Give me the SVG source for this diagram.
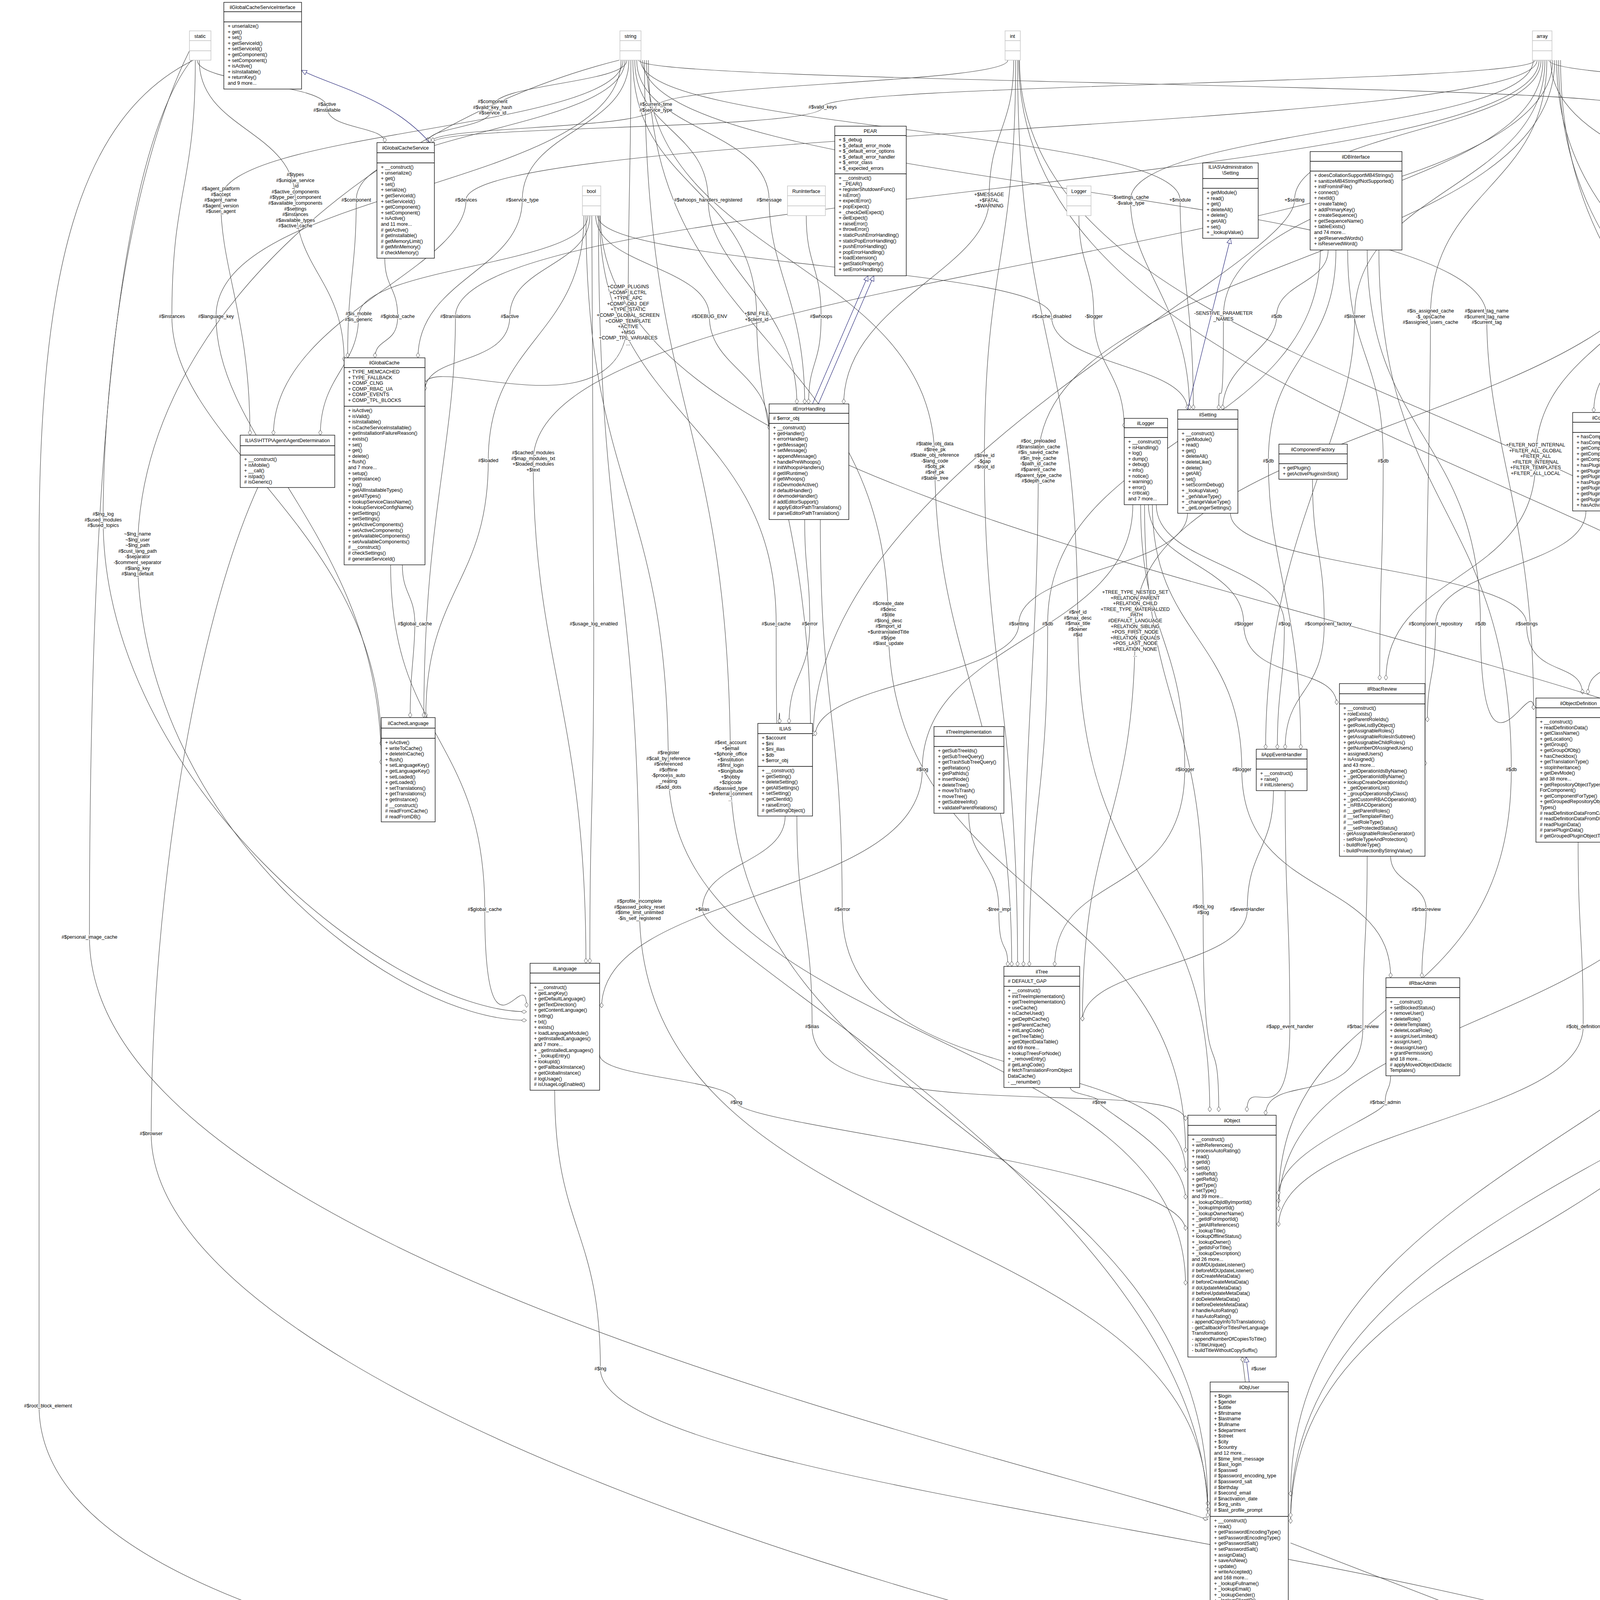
<svg xmlns="http://www.w3.org/2000/svg" width="5517" height="4699" viewBox="0 0 5517 4699">
<style>
text{font-family:"Liberation Sans",Arial,sans-serif;font-size:12.5px;fill:#000}
.t{text-anchor:middle}
.l{text-anchor:middle;paint-order:stroke;stroke:#fff;stroke-width:3px;stroke-linejoin:round}
.b{fill:#fff;stroke:#000;stroke-width:1.3}
.g{fill:#fff;stroke:#bfbfbf;stroke-width:1.3}
.sep{stroke:#000;stroke-width:1.3}
.sepg{stroke:#bfbfbf;stroke-width:1.3}
.e{fill:none;stroke:#404040;stroke-width:1.1;marker-end:url(#dia)}
.i{fill:none;stroke:#191970;stroke-width:1.1;marker-end:url(#tri)}
</style>
<defs>
<marker id="dia" viewBox="0 -5 14 10" refX="13.5" refY="0" markerWidth="14" markerHeight="10" markerUnits="userSpaceOnUse" orient="auto"><path d="M0.5,0 L7,-4.5 L13.5,0 L7,4.5 Z" fill="#fff" stroke="#404040" stroke-width="1"/></marker>
<marker id="tri" viewBox="0 -7 15 14" refX="14" refY="0" markerWidth="15" markerHeight="14" markerUnits="userSpaceOnUse" orient="auto"><path d="M1,-6 L14,0 L1,6 Z" fill="#fff" stroke="#191970" stroke-width="1"/></marker>
</defs>
<rect width="5517" height="4699" fill="#fff"/>

<g id="connectors">
<path class="e" d="M505,154 C505,214 837,214 837,274 S985,320 985,365"/>
<path class="e" d="M1605,154 C1605,214 1261,214 1261,274 S1095,320 1095,365"/>
<path class="e" d="M2580,154 C2580,214 1679,214 1679,274 S1100,320 1100,365"/>
<path class="e" d="M3930,154 C3930,214 2106,214 2106,274 S1108,320 1108,365"/>
<path class="e" d="M1595,154 C1595,333 565,333 565,512 S640,813 640,1114"/>
<path class="e" d="M510,154 C510,333 756,333 756,512 S881,718 881,925"/>
<path class="e" d="M1600,154 C1600,333 912,333 912,512 S890,714 890,916"/>
<path class="e" d="M3935,154 C3935,333 1193,333 1193,512 S700,813 700,1114"/>
<path class="e" d="M1610,154 C1610,333 1337,333 1337,512 S1070,714 1070,916"/>
<path class="e" d="M500,154 C500,482 440,482 440,810 S976,1360 976,1909"/>
<path class="e" d="M1590,154 C1590,482 553,482 553,810 S976,1384 976,1957"/>
<path class="e" d="M1505,552 C1505,681 918,681 918,810 S820,962 820,1114"/>
<path class="e" d="M985,661 C985,736 1018,736 1018,810 S960,863 960,916"/>
<path class="e" d="M3940,154 C3940,482 1166,482 1166,810 S1085,1324 1085,1837"/>
<path class="e" d="M1510,552 C1510,681 1305,681 1305,810 S1088,905 1088,1000"/>
<path class="e" d="M1615,154 C1615,480 1608,480 1608,807 S1088,896 1088,986"/>
<path class="e" d="M1625,154 C1625,333 1813,333 1813,512 S2040,773 2040,1034"/>
<path class="e" d="M1630,154 C1630,333 1969,333 1969,512 S2060,773 2060,1034"/>
<path class="e" d="M2595,154 C2595,333 2532,333 2532,512 S2160,773 2160,1034"/>
<path class="e" d="M1525,552 C1525,681 1816,681 1816,810 S1969,955 1969,1100"/>
<path class="e" d="M1620,154 C1620,482 1937,482 1937,810 S2075,1347 2075,1884"/>
<path class="e" d="M2064,552 C2064,681 2102,681 2102,810 S2070,922 2070,1034"/>
<path class="e" d="M1530,552 C1530,681 2692,681 2692,810 S3040,930 3040,1049"/>
<path class="e" d="M2762,552 C2762,681 2800,681 2800,810 S2878,953 2878,1095"/>
<path class="e" d="M1635,154 C1635,214 4175,214 4175,274 S5198,385 5198,495"/>
<path class="e" d="M3925,154 C3925,333 2894,333 2894,512 S3045,781 3045,1049"/>
<path class="e" d="M1640,154 C1640,333 3021,333 3021,512 S3055,781 3055,1049"/>
<path class="e" d="M3945,154 C3945,333 3314,333 3314,512 S2082,1198 2082,1884"/>
<path class="e" d="M3950,154 C3950,481 3132,481 3132,809 S3120,929 3120,1049"/>
<path class="e" d="M3400,640 C3400,725 3268,725 3268,810 S3130,930 3130,1049"/>
<path class="e" d="M3955,154 C3955,482 3468,482 3468,810 S3240,1364 3240,1918"/>
<path class="e" d="M3960,154 C3960,482 3662,482 3662,810 S3648,1385 3648,1960"/>
<path class="e" d="M1645,154 C1645,482 3806,482 3806,810 S3926,1314 3926,1817"/>
<path class="e" d="M4300,552 C4300,681 4171,681 4171,810 S4080,933 4080,1056"/>
<path class="e" d="M3965,154 C3965,214 5257,214 5257,274 S5253,338 5253,403"/>
<path class="e" d="M4310,552 C4310,680 4536,680 4536,807 S4640,1140 4640,1473"/>
<path class="e" d="M3970,154 C3970,482 4834,482 4834,810 S4150,1335 4150,1860"/>
<path class="e" d="M1495,552 C1495,866 1250,866 1250,1179 S1090,1508 1090,1837"/>
<path class="e" d="M3975,154 C3975,667 1365,667 1365,1180 S1500,1823 1500,2466"/>
<path class="e" d="M1030,1446 C1030,1522 1062,1522 1062,1597 S1050,1717 1050,1837"/>
<path class="e" d="M1515,552 C1515,1075 1520,1075 1520,1597 S1510,2032 1510,2466"/>
<path class="e" d="M1535,552 C1535,1075 1987,1075 1987,1597 S1996,1725 1996,1852"/>
<path class="e" d="M2060,1330 C2060,1464 2073,1464 2073,1597 S2020,1725 2020,1852"/>
<path class="e" d="M1500,552 C1500,1261 1711,1261 1711,1970 S3035,2630 3035,3290"/>
<path class="e" d="M1650,154 C1650,1064 1870,1064 1870,1973 S3092,2914 3092,3855"/>
<path class="e" d="M1000,1446 C1000,1887 1241,1887 1241,2328 S1348,2454 1348,2579"/>
<path class="e" d="M1532,552 C1532,1440 1637,1440 1637,2328 S3092,3099 3092,3870"/>
<path class="e" d="M2010,2089 C2010,2209 1798,2209 1798,2328 S3092,3107 3092,3885"/>
<path class="e" d="M1655,154 C1655,667 2393,667 2393,1179 S2590,1827 2590,2474"/>
<path class="e" d="M2600,154 C2600,667 2520,667 2520,1180 S2605,1827 2605,2474"/>
<path class="e" d="M3980,154 C3980,667 2658,667 2658,1180 S2620,1827 2620,2474"/>
<path class="e" d="M1660,154 C1660,875 2274,875 2274,1596 S3035,2273 3035,2950"/>
<path class="e" d="M3040,1314 C3040,1456 2608,1456 2608,1597 S2087,1741 2087,1884"/>
<path class="e" d="M3380,640 C3380,1119 2682,1119 2682,1597 S2635,2036 2635,2474"/>
<path class="e" d="M2605,154 C2605,875 2759,875 2759,1596 S3097,2221 3097,2846"/>
<path class="e" d="M4290,552 C4290,1074 2906,1074 2906,1596 S2771,2105 2771,2614"/>
<path class="e" d="M2940,1292 C2940,1445 3184,1445 3184,1597 S3422,1700 3422,1804"/>
<path class="e" d="M2960,1292 C2960,1445 3288,1445 3288,1597 S3270,1758 3270,1918"/>
<path class="e" d="M3360,1227 C3360,1412 3390,1412 3390,1597 S3290,1758 3290,1918"/>
<path class="e" d="M3420,640 C3420,910 3247,910 3247,1180 S3330,1549 3330,1918"/>
<path class="e" d="M4295,552 C4295,866 3931,866 3931,1180 S3548,1460 3548,1741"/>
<path class="e" d="M4315,552 C4315,866 4402,866 4402,1180 S4110,1483 4110,1787"/>
<path class="e" d="M3450,640 C3450,910 3541,910 3541,1180 S3532,1460 3532,1741"/>
<path class="e" d="M4060,1308 C4060,1452 3675,1452 3675,1597 S3654,1722 3654,1848"/>
<path class="e" d="M3500,640 C3500,1118 3790,1118 3790,1597 S3926,1707 3926,1817"/>
<path class="e" d="M3150,1314 C3150,1455 3908,1455 3908,1597 S4051,1687 4051,1777"/>
<path class="e" d="M4130,1308 C4130,1452 4177,1452 4177,1597 S4065,1687 4065,1777"/>
<path class="e" d="M3530,640 C3530,1305 3869,1305 3869,1970 S3273,2525 3273,3080"/>
<path class="e" d="M4320,552 C4320,1261 4395,1261 4395,1970 S3273,2535 3273,3100"/>
<path class="e" d="M2610,154 C2610,1062 4736,1062 4736,1970 S3304,2900 3304,3830"/>
<path class="e" d="M3560,2192 C3560,2260 3651,2260 3651,2328 S3640,2415 3640,2503"/>
<path class="e" d="M4325,552 C4325,1440 4537,1440 4537,2328 S3304,3114 3304,3900"/>
<path class="e" d="M3985,154 C3985,875 5004,875 5004,1597 S4894,2971 4894,4345"/>
<path class="e" d="M3990,154 C3990,1062 5116,1062 5116,1970 S3304,2927 3304,3885"/>
<path class="e" d="M2608,154 C2608,1241 5064,1241 5064,2328 S4798,3336 4798,4345"/>
<path class="e" d="M4330,552 C4330,1590 5183,1590 5183,2627 S4880,3486 4880,4345"/>
<path class="e" d="M1537,552 C1537,1590 5287,1590 5287,2627 S4902,3544 4902,4461"/>
<path class="e" d="M3995,154 C3995,1241 5400,1241 5400,2328 S4902,3414 4902,4500"/>
<path class="e" d="M2040,2089 C2040,2358 2079,2358 2079,2628 S3035,2748 3035,2869"/>
<path class="e" d="M1535,2700 C1535,2761 1885,2761 1885,2822 S3035,2986 3035,3150"/>
<path class="e" d="M1420,2791 C1420,3147 1537,3147 1537,3504 S4667,4011 4667,4519"/>
<path class="e" d="M2740,2784 C2740,2803 2814,2803 2814,2822 S3035,2946 3035,3070"/>
<path class="e" d="M3290,2024 C3290,2326 3302,2326 3302,2628 S3192,2737 3192,2846"/>
<path class="e" d="M3500,2192 C3500,2410 3489,2410 3489,2628 S3240,2741 3240,2855"/>
<path class="e" d="M4040,2156 C4040,2392 4053,2392 4053,2628 S3273,2884 3273,3140"/>
<path class="e" d="M3560,2754 C3560,2788 3546,2788 3546,2822 S3273,2941 3273,3060"/>
<path class="e" d="M3304,3950 L4667,4477"/>
<path class="e" d="M4790,2440 C4790,2786 4820,2786 4820,3131 S4769,3738 4769,4345"/>
<path class="e" d="M4610,1724 C4610,2375 4591,2375 4591,3025 S4745,3685 4745,4345"/>
<path class="e" d="M495,154 C200,300 100,700 100,1400 L100,3599 C100,4400 3000,4519 4667,4519"/>
<path class="e" d="M660,1248 C500,1600 387,2300 387,2902 C387,3700 3500,4480 4667,4505"/>
<path class="e" d="M490,154 C300,400 229,1200 229,2399 C229,3200 2500,3700 3092,3890"/>
<path class="e" d="M485,130 C350,400 264,900 264,1330 C264,2000 1000,2590 1348,2590"/>
<path class="e" d="M1585,154 C1000,300 352,800 352,1418 C352,2100 1000,2612 1348,2612"/>
<path class="e" d="M2100,1330 C2100,1829 2156,1829 2156,2328 S3035,2664 3035,3000"/>
<path class="e" d="M2480,2082 C2480,2205 2557,2205 2557,2328 S2580,2401 2580,2474"/>
<path class="e" d="M2930,1292 C2930,1810 3080,1810 3080,2328 S3120,2587 3120,2846"/>
<path class="e" d="M3260,2024 C3260,2176 3193,2176 3193,2328 S2771,2471 2771,2614"/>
<path class="e" d="M2900,1292 C2900,1631 2361,1631 2361,1970 S1540,2275 1540,2580"/>
<path class="e" d="M2920,1292 C2920,1631 3033,1631 3033,1970 S2700,2222 2700,2474"/>
<path class="e" d="M2950,1292 C2950,1631 3179,1631 3179,1970 S3560,2237 3560,2503"/>
<path class="e" d="M3188,3538 L3180,3474"/>
<path class="i" d="M3198,3538 L3190,3474"/>
<path class="i" d="M1100,365 C1000,250 850,220 772,180"/>
<path class="i" d="M2080,1034 L2222,706"/>
<path class="i" d="M2095,1034 L2237,706"/>
<path class="i" d="M3040,1049 L3150,610"/>
</g>

<g id="labels">
<text class="l" x="837" y="271"><tspan x="837">#$active</tspan><tspan x="837" dy="14.6">#$installable</tspan></text>
<text class="l" x="1261" y="264"><tspan x="1261">#$component</tspan><tspan x="1261" dy="14.6">#$valid_key_hash</tspan><tspan x="1261" dy="14.6">#$service_id</tspan></text>
<text class="l" x="1679" y="271"><tspan x="1679">#$current_time</tspan><tspan x="1679" dy="14.6">#$service_type</tspan></text>
<text class="l" x="2106" y="278">#$valid_keys</text>
<text class="l" x="565" y="487"><tspan x="565">#$agent_platform</tspan><tspan x="565" dy="14.6">#$accept</tspan><tspan x="565" dy="14.6">#$agent_name</tspan><tspan x="565" dy="14.6">#$agent_version</tspan><tspan x="565" dy="14.6">#$user_agent</tspan></text>
<text class="l" x="756" y="451"><tspan x="756">#$types</tspan><tspan x="756" dy="14.6">#$unique_service</tspan><tspan x="756" dy="14.6">_id</tspan><tspan x="756" dy="14.6">#$active_components</tspan><tspan x="756" dy="14.6">#$type_per_component</tspan><tspan x="756" dy="14.6">#$available_components</tspan><tspan x="756" dy="14.6">#$settings</tspan><tspan x="756" dy="14.6">#$instances</tspan><tspan x="756" dy="14.6">#$available_types</tspan><tspan x="756" dy="14.6">#$active_cache</tspan></text>
<text class="l" x="912" y="516">#$component</text>
<text class="l" x="1193" y="516">#$devices</text>
<text class="l" x="1337" y="516">#$service_type</text>
<text class="l" x="440" y="814">#$instances</text>
<text class="l" x="553" y="814">#$language_key</text>
<text class="l" x="918" y="807"><tspan x="918">#$is_mobile</tspan><tspan x="918" dy="14.6">#$is_generic</tspan></text>
<text class="l" x="1018" y="814">#$global_cache</text>
<text class="l" x="1166" y="814">#$translations</text>
<text class="l" x="1305" y="814">#$active</text>
<text class="l" x="1608" y="738"><tspan x="1608">+COMP_PLUGINS</tspan><tspan x="1608" dy="14.6">+COMP_ILCTRL</tspan><tspan x="1608" dy="14.6">+TYPE_APC</tspan><tspan x="1608" dy="14.6">+COMP_OBJ_DEF</tspan><tspan x="1608" dy="14.6">+TYPE_STATIC</tspan><tspan x="1608" dy="14.6">+COMP_GLOBAL_SCREEN</tspan><tspan x="1608" dy="14.6">+COMP_TEMPLATE</tspan><tspan x="1608" dy="14.6">+ACTIVE</tspan><tspan x="1608" dy="14.6">+MSG</tspan><tspan x="1608" dy="14.6">+COMP_TPL_VARIABLES</tspan><tspan x="1608" dy="14.6">...</tspan></text>
<text class="l" x="1813" y="516">#$whoops_handlers_registered</text>
<text class="l" x="1969" y="516">#$message</text>
<text class="l" x="2532" y="502"><tspan x="2532">+$MESSAGE</tspan><tspan x="2532" dy="14.6">+$FATAL</tspan><tspan x="2532" dy="14.6">+$WARNING</tspan></text>
<text class="l" x="1816" y="814">#$DEBUG_ENV</text>
<text class="l" x="1937" y="807"><tspan x="1937">+$INI_FILE</tspan><tspan x="1937" dy="14.6">+$client_id</tspan></text>
<text class="l" x="2102" y="814">#$whoops</text>
<text class="l" x="2692" y="814">#$cache_disabled</text>
<text class="l" x="2800" y="814">-$logger</text>
<text class="l" x="4175" y="264"><tspan x="4175">+$CURRENT_GROUP</tspan><tspan x="4175" dy="14.6">+$ERROR</tspan><tspan x="4175" dy="14.6">+$INI_FILE_NAME</tspan></text>
<text class="l" x="2894" y="509"><tspan x="2894">-$settings_cache</tspan><tspan x="2894" dy="14.6">-$value_type</tspan></text>
<text class="l" x="3021" y="516">+$module</text>
<text class="l" x="3314" y="516">+$setting</text>
<text class="l" x="3132" y="806"><tspan x="3132">-SENSTIVE_PARAMETER</tspan><tspan x="3132" dy="14.6">_NAMES</tspan></text>
<text class="l" x="3268" y="814">#$db</text>
<text class="l" x="3468" y="814">#$listener</text>
<text class="l" x="3662" y="800"><tspan x="3662">#$is_assigned_cache</tspan><tspan x="3662" dy="14.6">-$_opsCache</tspan><tspan x="3662" dy="14.6">#$assigned_users_cache</tspan></text>
<text class="l" x="3806" y="800"><tspan x="3806">#$parent_tag_name</tspan><tspan x="3806" dy="14.6">#$current_tag_name</tspan><tspan x="3806" dy="14.6">#$current_tag</tspan></text>
<text class="l" x="4171" y="814">+PLUGIN_BASE_PATH</text>
<text class="l" x="5257" y="278">+$GROUPS</text>
<text class="l" x="4536" y="738"><tspan x="4536">+CMD_MODE_HTML</tspan><tspan x="4536" dy="14.6">+PARAM_CMD</tspan><tspan x="4536" dy="14.6">+PARAM_CMD_FALLBACK</tspan><tspan x="4536" dy="14.6">+PARAM_CMD_MODE</tspan><tspan x="4536" dy="14.6">+PARAM_CMD_CLASS</tspan><tspan x="4536" dy="14.6">+CMD_POST</tspan><tspan x="4536" dy="14.6">+CMD_MODE_PROCESS</tspan><tspan x="4536" dy="14.6">+PROTECTED_PARAMETERS</tspan><tspan x="4536" dy="14.6">+PARAM_CID_PATH</tspan><tspan x="4536" dy="14.6">+PARAM_CSRF_TOKEN</tspan><tspan x="4536" dy="14.6">...</tspan></text>
<text class="l" x="4834" y="800"><tspan x="4834">#$obj_data</tspan><tspan x="4834" dy="14.6">#$obj_group</tspan><tspan x="4834" dy="14.6">#$sub_types</tspan></text>
<text class="l" x="1250" y="1183">#$loaded</text>
<text class="l" x="1365" y="1163"><tspan x="1365">#$cached_modules</tspan><tspan x="1365" dy="14.6">#$map_modules_txt</tspan><tspan x="1365" dy="14.6">+$loaded_modules</tspan><tspan x="1365" dy="14.6">+$text</tspan></text>
<text class="l" x="1062" y="1601">#$global_cache</text>
<text class="l" x="1520" y="1601">#$usage_log_enabled</text>
<text class="l" x="1987" y="1601">#$use_cache</text>
<text class="l" x="2073" y="1601">#$error</text>
<text class="l" x="1711" y="1931"><tspan x="1711">#$register</tspan><tspan x="1711" dy="14.6">#$call_by_reference</tspan><tspan x="1711" dy="14.6">#$referenced</tspan><tspan x="1711" dy="14.6">#$offline</tspan><tspan x="1711" dy="14.6">-$process_auto</tspan><tspan x="1711" dy="14.6">_reating</tspan><tspan x="1711" dy="14.6">#$add_dots</tspan></text>
<text class="l" x="1870" y="1905"><tspan x="1870">#$ext_account</tspan><tspan x="1870" dy="14.6">+$email</tspan><tspan x="1870" dy="14.6">+$phone_office</tspan><tspan x="1870" dy="14.6">+$institution</tspan><tspan x="1870" dy="14.6">#$first_login</tspan><tspan x="1870" dy="14.6">+$longitude</tspan><tspan x="1870" dy="14.6">+$hobby</tspan><tspan x="1870" dy="14.6">+$zipcode</tspan><tspan x="1870" dy="14.6">#$passwd_type</tspan><tspan x="1870" dy="14.6">+$referral_comment</tspan><tspan x="1870" dy="14.6">...</tspan></text>
<text class="l" x="1241" y="2332">#$global_cache</text>
<text class="l" x="1637" y="2311"><tspan x="1637">#$profile_incomplete</tspan><tspan x="1637" dy="14.6">#$passwd_policy_reset</tspan><tspan x="1637" dy="14.6">#$time_limit_unlimited</tspan><tspan x="1637" dy="14.6">-$is_self_registered</tspan></text>
<text class="l" x="1798" y="2332">+$ilias</text>
<text class="l" x="2393" y="1140"><tspan x="2393">#$table_obj_data</tspan><tspan x="2393" dy="14.6">#$tree_pk</tspan><tspan x="2393" dy="14.6">#$table_obj_reference</tspan><tspan x="2393" dy="14.6">-$lang_code</tspan><tspan x="2393" dy="14.6">#$obj_pk</tspan><tspan x="2393" dy="14.6">#$ref_pk</tspan><tspan x="2393" dy="14.6">#$table_tree</tspan></text>
<text class="l" x="2520" y="1170"><tspan x="2520">#$tree_id</tspan><tspan x="2520" dy="14.6">-$gap</tspan><tspan x="2520" dy="14.6">#$root_id</tspan></text>
<text class="l" x="2658" y="1133"><tspan x="2658">#$oc_preloaded</tspan><tspan x="2658" dy="14.6">#$translation_cache</tspan><tspan x="2658" dy="14.6">#$is_saved_cache</tspan><tspan x="2658" dy="14.6">#$in_tree_cache</tspan><tspan x="2658" dy="14.6">-$path_id_cache</tspan><tspan x="2658" dy="14.6">#$parent_cache</tspan><tspan x="2658" dy="14.6">#$parent_type_cache</tspan><tspan x="2658" dy="14.6">#$depth_cache</tspan></text>
<text class="l" x="2274" y="1549"><tspan x="2274">#$create_date</tspan><tspan x="2274" dy="14.6">#$desc</tspan><tspan x="2274" dy="14.6">#$title</tspan><tspan x="2274" dy="14.6">#$long_desc</tspan><tspan x="2274" dy="14.6">#$import_id</tspan><tspan x="2274" dy="14.6">+$untranslatedTitle</tspan><tspan x="2274" dy="14.6">#$type</tspan><tspan x="2274" dy="14.6">#$last_update</tspan></text>
<text class="l" x="2608" y="1601">#$setting</text>
<text class="l" x="2682" y="1601">#$db</text>
<text class="l" x="2759" y="1571"><tspan x="2759">#$ref_id</tspan><tspan x="2759" dy="14.6">#$max_desc</tspan><tspan x="2759" dy="14.6">#$max_title</tspan><tspan x="2759" dy="14.6">#$owner</tspan><tspan x="2759" dy="14.6">#$id</tspan></text>
<text class="l" x="2906" y="1520"><tspan x="2906">+TREE_TYPE_NESTED_SET</tspan><tspan x="2906" dy="14.6">+RELATION_PARENT</tspan><tspan x="2906" dy="14.6">+RELATION_CHILD</tspan><tspan x="2906" dy="14.6">+TREE_TYPE_MATERIALIZED</tspan><tspan x="2906" dy="14.6">_PATH</tspan><tspan x="2906" dy="14.6">#DEFAULT_LANGUAGE</tspan><tspan x="2906" dy="14.6">+RELATION_SIBLING</tspan><tspan x="2906" dy="14.6">+POS_FIRST_NODE</tspan><tspan x="2906" dy="14.6">+RELATION_EQUALS</tspan><tspan x="2906" dy="14.6">+POS_LAST_NODE</tspan><tspan x="2906" dy="14.6">+RELATION_NONE</tspan><tspan x="2906" dy="14.6">...</tspan></text>
<text class="l" x="3184" y="1601">#$logger</text>
<text class="l" x="3288" y="1601">#$log</text>
<text class="l" x="3400" y="1601">#$component_factory</text>
<text class="l" x="3247" y="1184">#$db</text>
<text class="l" x="3931" y="1143"><tspan x="3931">+FILTER_NOT_INTERNAL</tspan><tspan x="3931" dy="14.6">+FILTER_ALL_GLOBAL</tspan><tspan x="3931" dy="14.6">+FILTER_ALL</tspan><tspan x="3931" dy="14.6">+FILTER_INTERNAL</tspan><tspan x="3931" dy="14.6">+FILTER_TEMPLATES</tspan><tspan x="3931" dy="14.6">+FILTER_ALL_LOCAL</tspan></text>
<text class="l" x="4402" y="1170"><tspan x="4402">+MODE_REPOSITORY</tspan><tspan x="4402" dy="14.6">+MODE_ADMINISTRATION</tspan><tspan x="4402" dy="14.6">+MODE_WORKSPACE</tspan></text>
<text class="l" x="3541" y="1184">#$db</text>
<text class="l" x="3675" y="1601">#$component_repository</text>
<text class="l" x="3790" y="1601">#$db</text>
<text class="l" x="3908" y="1601">#$settings</text>
<text class="l" x="4177" y="1601">#$component_repository</text>
<text class="l" x="3869" y="1974">#$db</text>
<text class="l" x="4395" y="1953"><tspan x="4395">+TABLE_OBJECT_DATA</tspan><tspan x="4395" dy="14.6">+LONG_DESC_LENGTH</tspan><tspan x="4395" dy="14.6">+TITLE_LENGTH</tspan><tspan x="4395" dy="14.6">+DESC_LENGTH</tspan></text>
<text class="l" x="4736" y="1938"><tspan x="4736">#$time_limit_owner</tspan><tspan x="4736" dy="14.6">+$active</tspan><tspan x="4736" dy="14.6">#$time_limit_from</tspan><tspan x="4736" dy="14.6">#$time_limit_until</tspan><tspan x="4736" dy="14.6">+$login_attempts</tspan><tspan x="4736" dy="14.6">+$last_password_change_ts</tspan></text>
<text class="l" x="3651" y="2332">#$rbacreview</text>
<text class="l" x="4537" y="2325"><tspan x="4537">+PASSWD_CRYPTED</tspan><tspan x="4537" dy="14.6">+PASSWD_PLAIN</tspan></text>
<text class="l" x="5004" y="1601">+$objectList</text>
<text class="l" x="5116" y="1923"><tspan x="5116">+$prefs</tspan><tspan x="5116" dy="14.6">+$user_defined_data</tspan><tspan x="5116" dy="14.6">#$interests_help</tspan><tspan x="5116" dy="14.6">_offered</tspan><tspan x="5116" dy="14.6">#$interests_general</tspan><tspan x="5116" dy="14.6">#$oldPrefs</tspan><tspan x="5116" dy="14.6">#$interests_help</tspan><tspan x="5116" dy="14.6">_looking</tspan></text>
<text class="l" x="5064" y="2332">#$initialWidth</text>
<text class="l" x="5183" y="2624"><tspan x="5183">+ILIAS_IMG_MANAGER</tspan><tspan x="5183" dy="14.6">_PLUGIN</tspan></text>
<text class="l" x="5326" y="2631">#$client_init</text>
<text class="l" x="5453" y="2318"><tspan x="5453">#$plugins</tspan><tspan x="5453" dy="14.6">#$buttons</tspan><tspan x="5453" dy="14.6">#$disabled_buttons</tspan></text>
<text class="l" x="2079" y="2632">#$ilias</text>
<text class="l" x="1885" y="2826">#$lng</text>
<text class="l" x="1537" y="3508">#$lng</text>
<text class="l" x="2814" y="2826">#$tree</text>
<text class="l" x="3302" y="2632">#$app_event_handler</text>
<text class="l" x="3489" y="2632">#$rbac_review</text>
<text class="l" x="4053" y="2632">#$obj_definition</text>
<text class="l" x="3546" y="2826">#$rbac_admin</text>
<text class="l" x="3222" y="3508">#$user</text>
<text class="l" x="4296" y="4323">#$user</text>
<text class="l" x="4820" y="3135">#$tpl</text>
<text class="l" x="4591" y="3029">#$ctrl</text>
<text class="l" x="123" y="3603">#$root_block_element</text>
<text class="l" x="387" y="2906">#$browser</text>
<text class="l" x="229" y="2403">#$personal_image_cache</text>
<text class="l" x="264" y="1320"><tspan x="264">#$lng_log</tspan><tspan x="264" dy="14.6">#$used_modules</tspan><tspan x="264" dy="14.6">#$used_topics</tspan></text>
<text class="l" x="352" y="1371"><tspan x="352">~$lng_name</tspan><tspan x="352" dy="14.6">~$lng_user</tspan><tspan x="352" dy="14.6">~$lng_path</tspan><tspan x="352" dy="14.6">#$cust_lang_path</tspan><tspan x="352" dy="14.6">-$separator</tspan><tspan x="352" dy="14.6">-$comment_separator</tspan><tspan x="352" dy="14.6">#$lang_key</tspan><tspan x="352" dy="14.6">#$lang_default</tspan></text>
<text class="l" x="2156" y="2332">#$error</text>
<text class="l" x="2557" y="2332">-$tree_impl</text>
<text class="l" x="3080" y="2325"><tspan x="3080">#$obj_log</tspan><tspan x="3080" dy="14.6">#$log</tspan></text>
<text class="l" x="3193" y="2332">#$eventHandler</text>
<text class="l" x="2361" y="1974">#$log</text>
<text class="l" x="3033" y="1974">#$logger</text>
<text class="l" x="3179" y="1974">#$logger</text>
</g>

<g id="static"><rect class="g" x="485" y="79" width="55" height="75"/><line class="sepg" x1="485" y1="104" x2="540" y2="104"/><line class="sepg" x1="485" y1="130" x2="540" y2="130"/><text class="t" x="512" y="97">static</text></g>
<g id="string"><rect class="g" x="1587" y="79" width="54" height="75"/><line class="sepg" x1="1587" y1="104" x2="1641" y2="104"/><line class="sepg" x1="1587" y1="130" x2="1641" y2="130"/><text class="t" x="1614" y="97">string</text></g>
<g id="int"><rect class="g" x="2573" y="79" width="39" height="75"/><line class="sepg" x1="2573" y1="104" x2="2612" y2="104"/><line class="sepg" x1="2573" y1="130" x2="2612" y2="130"/><text class="t" x="2592" y="97">int</text></g>
<g id="array"><rect class="g" x="3923" y="79" width="50" height="75"/><line class="sepg" x1="3923" y1="104" x2="3973" y2="104"/><line class="sepg" x1="3923" y1="130" x2="3973" y2="130"/><text class="t" x="3948" y="97">array</text></g>
<g id="bool"><rect class="g" x="1491" y="476" width="47" height="76"/><line class="sepg" x1="1491" y1="501" x2="1538" y2="501"/><line class="sepg" x1="1491" y1="527" x2="1538" y2="527"/><text class="t" x="1514" y="494">bool</text></g>
<g id="RunInterface"><rect class="g" x="2016" y="476" width="97" height="76"/><line class="sepg" x1="2016" y1="501" x2="2113" y2="501"/><line class="sepg" x1="2016" y1="527" x2="2113" y2="527"/><text class="t" x="2064" y="494">RunInterface</text></g>
<g id="Logger"><rect class="g" x="2731" y="476" width="62" height="76"/><line class="sepg" x1="2731" y1="501" x2="2793" y2="501"/><line class="sepg" x1="2731" y1="527" x2="2793" y2="527"/><text class="t" x="2762" y="494">Logger</text></g>
<g id="const"><rect class="g" x="4277" y="476" width="55" height="76"/><line class="sepg" x1="4277" y1="501" x2="4332" y2="501"/><line class="sepg" x1="4277" y1="527" x2="4332" y2="527"/><text class="t" x="4304" y="494">const</text></g>

<g id="ilGlobalCacheServiceInterface"><rect class="b" x="573" y="6" width="199" height="222"/><line class="sep" x1="573" y1="30" x2="772" y2="30"/><line class="sep" x1="573" y1="56" x2="772" y2="56"/><text class="t" x="672" y="23">ilGlobalCacheServiceInterface</text>
<text x="583" y="71"><tspan x="583">+ unserialize()</tspan><tspan x="583" dy="14.6">+ get()</tspan><tspan x="583" dy="14.6">+ set()</tspan><tspan x="583" dy="14.6">+ getServiceId()</tspan><tspan x="583" dy="14.6">+ setServiceId()</tspan><tspan x="583" dy="14.6">+ getComponent()</tspan><tspan x="583" dy="14.6">+ setComponent()</tspan><tspan x="583" dy="14.6">+ isActive()</tspan><tspan x="583" dy="14.6">+ isInstallable()</tspan><tspan x="583" dy="14.6">+ returnKey()</tspan><tspan x="583" dy="14.6">and 9 more...</tspan></text></g>

<g id="ilGlobalCacheService"><rect class="b" x="965" y="365" width="147" height="296"/><line class="sep" x1="965" y1="391" x2="1112" y2="391"/><line class="sep" x1="965" y1="417" x2="1112" y2="417"/><text class="t" x="1038" y="383">ilGlobalCacheService</text>
<text x="975" y="432"><tspan x="975">+ __construct()</tspan><tspan x="975" dy="14.6">+ unserialize()</tspan><tspan x="975" dy="14.6">+ get()</tspan><tspan x="975" dy="14.6">+ set()</tspan><tspan x="975" dy="14.6">+ serialize()</tspan><tspan x="975" dy="14.6">+ getServiceId()</tspan><tspan x="975" dy="14.6">+ setServiceId()</tspan><tspan x="975" dy="14.6">+ getComponent()</tspan><tspan x="975" dy="14.6">+ setComponent()</tspan><tspan x="975" dy="14.6">+ isActive()</tspan><tspan x="975" dy="14.6">and 11 more...</tspan><tspan x="975" dy="14.6"># getActive()</tspan><tspan x="975" dy="14.6"># getInstallable()</tspan><tspan x="975" dy="14.6"># getMemoryLimit()</tspan><tspan x="975" dy="14.6"># getMinMemory()</tspan><tspan x="975" dy="14.6"># checkMemory()</tspan></text></g>

<g id="ilGlobalCache"><rect class="b" x="881" y="916" width="207" height="530"/><line class="sep" x1="881" y1="941" x2="1088" y2="941"/><line class="sep" x1="881" y1="1040" x2="1088" y2="1040"/><text class="t" x="984" y="933">ilGlobalCache</text>
<text x="891" y="956"><tspan x="891">+ TYPE_MEMCACHED</tspan><tspan x="891" dy="14.6">+ TYPE_FALLBACK</tspan><tspan x="891" dy="14.6">+ COMP_CLNG</tspan><tspan x="891" dy="14.6">+ COMP_RBAC_UA</tspan><tspan x="891" dy="14.6">+ COMP_EVENTS</tspan><tspan x="891" dy="14.6">+ COMP_TPL_BLOCKS</tspan></text>
<text x="891" y="1055"><tspan x="891">+ isActive()</tspan><tspan x="891" dy="14.6">+ isValid()</tspan><tspan x="891" dy="14.6">+ isInstallable()</tspan><tspan x="891" dy="14.6">+ isCacheServiceInstallable()</tspan><tspan x="891" dy="14.6">+ getInstallationFailureReason()</tspan><tspan x="891" dy="14.6">+ exists()</tspan><tspan x="891" dy="14.6">+ set()</tspan><tspan x="891" dy="14.6">+ get()</tspan><tspan x="891" dy="14.6">+ delete()</tspan><tspan x="891" dy="14.6">+ flush()</tspan><tspan x="891" dy="14.6">and 7 more...</tspan><tspan x="891" dy="14.6">+ setup()</tspan><tspan x="891" dy="14.6">+ getInstance()</tspan><tspan x="891" dy="14.6">+ log()</tspan><tspan x="891" dy="14.6">+ getAllInstallableTypes()</tspan><tspan x="891" dy="14.6">+ getAllTypes()</tspan><tspan x="891" dy="14.6">+ lookupServiceClassName()</tspan><tspan x="891" dy="14.6">+ lookupServiceConfigName()</tspan><tspan x="891" dy="14.6">+ getSettings()</tspan><tspan x="891" dy="14.6">+ setSettings()</tspan><tspan x="891" dy="14.6">+ getActiveComponents()</tspan><tspan x="891" dy="14.6">+ setActiveComponents()</tspan><tspan x="891" dy="14.6">+ getAvailableComponents()</tspan><tspan x="891" dy="14.6">+ setAvailableComponents()</tspan><tspan x="891" dy="14.6"># __construct()</tspan><tspan x="891" dy="14.6"># checkSettings()</tspan><tspan x="891" dy="14.6"># generateServiceId()</tspan></text></g>

<g id="AgentDetermination"><rect class="b" x="615" y="1114" width="242" height="134"/><line class="sep" x1="615" y1="1141" x2="857" y2="1141"/><line class="sep" x1="615" y1="1165" x2="857" y2="1165"/><text class="t" x="736" y="1132">ILIAS\HTTP\Agent\AgentDetermination</text>
<text x="625" y="1180"><tspan x="625">+ __construct()</tspan><tspan x="625" dy="14.6">+ isMobile()</tspan><tspan x="625" dy="14.6">+ __call()</tspan><tspan x="625" dy="14.6">+ isIpad()</tspan><tspan x="625" dy="14.6"># isGeneric()</tspan></text></g>

<g id="ilCachedLanguage"><rect class="b" x="976" y="1837" width="138" height="267"/><line class="sep" x1="976" y1="1864" x2="1114" y2="1864"/><line class="sep" x1="976" y1="1890" x2="1114" y2="1890"/><text class="t" x="1045" y="1856">ilCachedLanguage</text>
<text x="986" y="1905"><tspan x="986">+ isActive()</tspan><tspan x="986" dy="14.6">+ writeToCache()</tspan><tspan x="986" dy="14.6">+ deleteInCache()</tspan><tspan x="986" dy="14.6">+ flush()</tspan><tspan x="986" dy="14.6">+ setLanguageKey()</tspan><tspan x="986" dy="14.6">+ getLanguageKey()</tspan><tspan x="986" dy="14.6">+ setLoaded()</tspan><tspan x="986" dy="14.6">+ getLoaded()</tspan><tspan x="986" dy="14.6">+ setTranslations()</tspan><tspan x="986" dy="14.6">+ getTranslations()</tspan><tspan x="986" dy="14.6">+ getInstance()</tspan><tspan x="986" dy="14.6"># __construct()</tspan><tspan x="986" dy="14.6"># readFromCache()</tspan><tspan x="986" dy="14.6"># readFromDB()</tspan></text></g>

<g id="PEAR"><rect class="b" x="2137" y="323" width="183" height="383"/><line class="sep" x1="2137" y1="347" x2="2320" y2="347"/><line class="sep" x1="2137" y1="445" x2="2320" y2="445"/><text class="t" x="2228" y="340">PEAR</text>
<text x="2147" y="362"><tspan x="2147">+ $_debug</tspan><tspan x="2147" dy="14.6">+ $_default_error_mode</tspan><tspan x="2147" dy="14.6">+ $_default_error_options</tspan><tspan x="2147" dy="14.6">+ $_default_error_handler</tspan><tspan x="2147" dy="14.6">+ $_error_class</tspan><tspan x="2147" dy="14.6">+ $_expected_errors</tspan></text>
<text x="2147" y="460"><tspan x="2147">+ __construct()</tspan><tspan x="2147" dy="14.6">+ _PEAR()</tspan><tspan x="2147" dy="14.6">+ registerShutdownFunc()</tspan><tspan x="2147" dy="14.6">+ isError()</tspan><tspan x="2147" dy="14.6">+ expectError()</tspan><tspan x="2147" dy="14.6">+ popExpect()</tspan><tspan x="2147" dy="14.6">+ _checkDelExpect()</tspan><tspan x="2147" dy="14.6">+ delExpect()</tspan><tspan x="2147" dy="14.6">+ raiseError()</tspan><tspan x="2147" dy="14.6">+ throwError()</tspan><tspan x="2147" dy="14.6">+ staticPushErrorHandling()</tspan><tspan x="2147" dy="14.6">+ staticPopErrorHandling()</tspan><tspan x="2147" dy="14.6">+ pushErrorHandling()</tspan><tspan x="2147" dy="14.6">+ popErrorHandling()</tspan><tspan x="2147" dy="14.6">+ loadExtension()</tspan><tspan x="2147" dy="14.6">+ getStaticProperty()</tspan><tspan x="2147" dy="14.6">+ setErrorHandling()</tspan></text></g>

<g id="ilErrorHandling"><rect class="b" x="1969" y="1034" width="204" height="296"/><line class="sep" x1="1969" y1="1058" x2="2173" y2="1058"/><line class="sep" x1="1969" y1="1084" x2="2173" y2="1084"/><text class="t" x="2071" y="1051">ilErrorHandling</text>
<text x="1979" y="1075"># $error_obj</text>
<text x="1979" y="1099"><tspan x="1979">+ __construct()</tspan><tspan x="1979" dy="14.6">+ getHandler()</tspan><tspan x="1979" dy="14.6">+ errorHandler()</tspan><tspan x="1979" dy="14.6">+ getMessage()</tspan><tspan x="1979" dy="14.6">+ setMessage()</tspan><tspan x="1979" dy="14.6">+ appendMessage()</tspan><tspan x="1979" dy="14.6">+ handlePreWhoops()</tspan><tspan x="1979" dy="14.6"># initWhoopsHandlers()</tspan><tspan x="1979" dy="14.6"># getIlRuntime()</tspan><tspan x="1979" dy="14.6"># getWhoops()</tspan><tspan x="1979" dy="14.6"># isDevmodeActive()</tspan><tspan x="1979" dy="14.6"># defaultHandler()</tspan><tspan x="1979" dy="14.6"># devmodeHandler()</tspan><tspan x="1979" dy="14.6"># addEditorSupport()</tspan><tspan x="1979" dy="14.6"># applyEditorPathTranslations()</tspan><tspan x="1979" dy="14.6"># parseEditorPathTranslation()</tspan></text></g>

<g id="ILIAS"><rect class="b" x="1940" y="1852" width="140" height="237"/><line class="sep" x1="1940" y1="1878" x2="2080" y2="1878"/><line class="sep" x1="1940" y1="1962" x2="2080" y2="1962"/><text class="t" x="2010" y="1870">ILIAS</text>
<text x="1950" y="1893"><tspan x="1950">+ $account</tspan><tspan x="1950" dy="14.6">+ $ini</tspan><tspan x="1950" dy="14.6">+ $ini_ilias</tspan><tspan x="1950" dy="14.6">+ $db</tspan><tspan x="1950" dy="14.6">+ $error_obj</tspan></text>
<text x="1950" y="1977"><tspan x="1950">+ __construct()</tspan><tspan x="1950" dy="14.6">+ getSetting()</tspan><tspan x="1950" dy="14.6">+ deleteSetting()</tspan><tspan x="1950" dy="14.6">+ getAllSettings()</tspan><tspan x="1950" dy="14.6">+ setSetting()</tspan><tspan x="1950" dy="14.6">+ getClientId()</tspan><tspan x="1950" dy="14.6">+ raiseError()</tspan><tspan x="1950" dy="14.6"># getSettingObject()</tspan></text></g>

<g id="ilTreeImplementation"><rect class="b" x="2391" y="1860" width="179" height="222"/><line class="sep" x1="2391" y1="1885" x2="2570" y2="1885"/><line class="sep" x1="2391" y1="1911" x2="2570" y2="1911"/><text class="t" x="2480" y="1878">ilTreeImplementation</text>
<text x="2401" y="1926"><tspan x="2401">+ getSubTreeIds()</tspan><tspan x="2401" dy="14.6">+ getSubTreeQuery()</tspan><tspan x="2401" dy="14.6">+ getTrashSubTreeQuery()</tspan><tspan x="2401" dy="14.6">+ getRelation()</tspan><tspan x="2401" dy="14.6">+ getPathIds()</tspan><tspan x="2401" dy="14.6">+ insertNode()</tspan><tspan x="2401" dy="14.6">+ deleteTree()</tspan><tspan x="2401" dy="14.6">+ moveToTrash()</tspan><tspan x="2401" dy="14.6">+ moveTree()</tspan><tspan x="2401" dy="14.6">+ getSubtreeInfo()</tspan><tspan x="2401" dy="14.6">+ validateParentRelations()</tspan></text></g>

<g id="ilLogger"><rect class="b" x="2878" y="1071" width="111" height="221"/><line class="sep" x1="2878" y1="1095" x2="2989" y2="1095"/><line class="sep" x1="2878" y1="1120" x2="2989" y2="1120"/><text class="t" x="2933" y="1088">ilLogger</text>
<text x="2888" y="1135"><tspan x="2888">+ __construct()</tspan><tspan x="2888" dy="14.6">+ isHandling()</tspan><tspan x="2888" dy="14.6">+ log()</tspan><tspan x="2888" dy="14.6">+ dump()</tspan><tspan x="2888" dy="14.6">+ debug()</tspan><tspan x="2888" dy="14.6">+ info()</tspan><tspan x="2888" dy="14.6">+ notice()</tspan><tspan x="2888" dy="14.6">+ warning()</tspan><tspan x="2888" dy="14.6">+ error()</tspan><tspan x="2888" dy="14.6">+ critical()</tspan><tspan x="2888" dy="14.6">and 7 more...</tspan></text></g>

<g id="ilSetting"><rect class="b" x="3015" y="1049" width="154" height="265"/><line class="sep" x1="3015" y1="1073" x2="3169" y2="1073"/><line class="sep" x1="3015" y1="1099" x2="3169" y2="1099"/><text class="t" x="3092" y="1066">ilSetting</text>
<text x="3025" y="1114"><tspan x="3025">+ __construct()</tspan><tspan x="3025" dy="14.6">+ getModule()</tspan><tspan x="3025" dy="14.6">+ read()</tspan><tspan x="3025" dy="14.6">+ get()</tspan><tspan x="3025" dy="14.6">+ deleteAll()</tspan><tspan x="3025" dy="14.6">+ deleteLike()</tspan><tspan x="3025" dy="14.6">+ delete()</tspan><tspan x="3025" dy="14.6">+ getAll()</tspan><tspan x="3025" dy="14.6">+ set()</tspan><tspan x="3025" dy="14.6">+ setScormDebug()</tspan><tspan x="3025" dy="14.6">+ _lookupValue()</tspan><tspan x="3025" dy="14.6">+ _getValueType()</tspan><tspan x="3025" dy="14.6">+ _changeValueType()</tspan><tspan x="3025" dy="14.6">+ _getLongerSettings()</tspan></text></g>

<g id="ilComponentFactory"><rect class="b" x="3274" y="1137" width="175" height="90"/><line class="sep" x1="3274" y1="1162" x2="3449" y2="1162"/><line class="sep" x1="3274" y1="1187" x2="3449" y2="1187"/><text class="t" x="3361" y="1155">ilComponentFactory</text>
<text x="3284" y="1202"><tspan x="3284">+ getPlugin()</tspan><tspan x="3284" dy="14.6">+ getActivePluginsInSlot()</tspan></text></g>

<g id="ilAppEventHandler"><rect class="b" x="3216" y="1918" width="130" height="106"/><line class="sep" x1="3216" y1="1943" x2="3346" y2="1943"/><line class="sep" x1="3216" y1="1969" x2="3346" y2="1969"/><text class="t" x="3281" y="1936">ilAppEventHandler</text>
<text x="3226" y="1984"><tspan x="3226">+ __construct()</tspan><tspan x="3226" dy="14.6">+ raise()</tspan><tspan x="3226" dy="14.6"># initListeners()</tspan></text></g>

<g id="ilComponentRepository"><rect class="b" x="4026" y="1056" width="230" height="252"/><line class="sep" x1="4026" y1="1081" x2="4256" y2="1081"/><line class="sep" x1="4026" y1="1107" x2="4256" y2="1107"/><text class="t" x="4141" y="1074">ilComponentRepository</text>
<text x="4036" y="1122"><tspan x="4036">+ hasComponent()</tspan><tspan x="4036" dy="14.6">+ hasComponentId()</tspan><tspan x="4036" dy="14.6">+ getComponents()</tspan><tspan x="4036" dy="14.6">+ getComponentById()</tspan><tspan x="4036" dy="14.6">+ getComponentByTypeAndName()</tspan><tspan x="4036" dy="14.6">+ hasPluginSlotId()</tspan><tspan x="4036" dy="14.6">+ getPluginSlots()</tspan><tspan x="4036" dy="14.6">+ getPluginSlotById()</tspan><tspan x="4036" dy="14.6">+ hasPluginId()</tspan><tspan x="4036" dy="14.6">+ getPlugins()</tspan><tspan x="4036" dy="14.6">+ getPluginById()</tspan><tspan x="4036" dy="14.6">+ getPluginByName()</tspan><tspan x="4036" dy="14.6">+ hasActivatedPlugin()</tspan></text></g>

<g id="ilRbacReview"><rect class="b" x="3429" y="1750" width="219" height="442"/><line class="sep" x1="3429" y1="1776" x2="3648" y2="1776"/><line class="sep" x1="3429" y1="1802" x2="3648" y2="1802"/><text class="t" x="3538" y="1768">ilRbacReview</text>
<text x="3439" y="1817"><tspan x="3439">+ __construct()</tspan><tspan x="3439" dy="14.6">+ roleExists()</tspan><tspan x="3439" dy="14.6">+ getParentRoleIds()</tspan><tspan x="3439" dy="14.6">+ getRoleListByObject()</tspan><tspan x="3439" dy="14.6">+ getAssignableRoles()</tspan><tspan x="3439" dy="14.6">+ getAssignableRolesInSubtree()</tspan><tspan x="3439" dy="14.6">+ getAssignableChildRoles()</tspan><tspan x="3439" dy="14.6">+ getNumberOfAssignedUsers()</tspan><tspan x="3439" dy="14.6">+ assignedUsers()</tspan><tspan x="3439" dy="14.6">+ isAssigned()</tspan><tspan x="3439" dy="14.6">and 43 more...</tspan><tspan x="3439" dy="14.6">+ _getOperationIdsByName()</tspan><tspan x="3439" dy="14.6">+ _getOperationIdByName()</tspan><tspan x="3439" dy="14.6">+ lookupCreateOperationIds()</tspan><tspan x="3439" dy="14.6">+ _getOperationList()</tspan><tspan x="3439" dy="14.6">+ _groupOperationsByClass()</tspan><tspan x="3439" dy="14.6">+ _getCustomRBACOperationId()</tspan><tspan x="3439" dy="14.6">+ _isRBACOperation()</tspan><tspan x="3439" dy="14.6"># __getParentRoles()</tspan><tspan x="3439" dy="14.6"># __setTemplateFilter()</tspan><tspan x="3439" dy="14.6"># __setRoleType()</tspan><tspan x="3439" dy="14.6"># __setProtectedStatus()</tspan><tspan x="3439" dy="14.6">- getAssignableRolesGenerator()</tspan><tspan x="3439" dy="14.6">- setRoleTypeAndProtection()</tspan><tspan x="3439" dy="14.6">- buildRoleType()</tspan><tspan x="3439" dy="14.6">- buildProtectionByStringValue()</tspan></text></g>

<g id="ilObjectDefinition"><rect class="b" x="3932" y="1787" width="218" height="369"/><line class="sep" x1="3932" y1="1812" x2="4150" y2="1812"/><line class="sep" x1="3932" y1="1837" x2="4150" y2="1837"/><text class="t" x="4041" y="1805">ilObjectDefinition</text>
<text x="3942" y="1852"><tspan x="3942">+ __construct()</tspan><tspan x="3942" dy="14.6">+ readDefinitionData()</tspan><tspan x="3942" dy="14.6">+ getClassName()</tspan><tspan x="3942" dy="14.6">+ getLocation()</tspan><tspan x="3942" dy="14.6">+ getGroup()</tspan><tspan x="3942" dy="14.6">+ getGroupOfObj()</tspan><tspan x="3942" dy="14.6">+ hasCheckbox()</tspan><tspan x="3942" dy="14.6">+ getTranslationType()</tspan><tspan x="3942" dy="14.6">+ stopInheritance()</tspan><tspan x="3942" dy="14.6">+ getDevMode()</tspan><tspan x="3942" dy="14.6">and 38 more...</tspan><tspan x="3942" dy="14.6">+ getRepositoryObjectTypes</tspan><tspan x="3942" dy="14.6">ForComponent()</tspan><tspan x="3942" dy="14.6">+ getComponentForType()</tspan><tspan x="3942" dy="14.6">+ getGroupedRepositoryObject</tspan><tspan x="3942" dy="14.6">Types()</tspan><tspan x="3942" dy="14.6"># readDefinitionDataFromCache()</tspan><tspan x="3942" dy="14.6"># readDefinitionDataFromDB()</tspan><tspan x="3942" dy="14.6"># readPluginData()</tspan><tspan x="3942" dy="14.6"># parsePluginData()</tspan><tspan x="3942" dy="14.6"># getGroupedPluginObjectTypes()</tspan></text></g>

<g id="ilCtrlInterface"><rect class="b" x="4516" y="1473" width="180" height="251"/><line class="sep" x1="4516" y1="1498" x2="4696" y2="1498"/><line class="sep" x1="4516" y1="1553" x2="4696" y2="1553"/><text class="t" x="4606" y="1491">ilCtrlInterface</text>
<text x="4526" y="1512"><tspan x="4526">+ PARAM_REDIRECT</tspan><tspan x="4526" dy="14.6">+ PARAM_BASE_CLASS</tspan><tspan x="4526" dy="14.6">+ CMD_MODE_ASYNC</tspan></text>
<text x="4526" y="1568"><tspan x="4526">+ callBaseClass()</tspan><tspan x="4526" dy="14.6">+ forwardCommand()</tspan><tspan x="4526" dy="14.6">+ getHTML()</tspan><tspan x="4526" dy="14.6">+ getCmd()</tspan><tspan x="4526" dy="14.6">+ setCmd()</tspan><tspan x="4526" dy="14.6">+ getCmdClass()</tspan><tspan x="4526" dy="14.6">+ setCmdClass()</tspan><tspan x="4526" dy="14.6">+ getNextClass()</tspan><tspan x="4526" dy="14.6">+ saveParameter()</tspan><tspan x="4526" dy="14.6">+ saveParameterByClass()</tspan><tspan x="4526" dy="14.6">and 32 more...</tspan></text></g>

<g id="ilGlobalTemplateInterface"><rect class="b" x="4700" y="2217" width="199" height="223"/><line class="sep" x1="4700" y1="2243" x2="4899" y2="2243"/><line class="sep" x1="4700" y1="2268" x2="4899" y2="2268"/><text class="t" x="4799" y="2235">ilGlobalTemplateInterface</text>
<text x="4710" y="2283"><tspan x="4710">+ hideFooter()</tspan><tspan x="4710" dy="14.6">+ setOnScreenMessage()</tspan><tspan x="4710" dy="14.6">+ addJavaScript()</tspan><tspan x="4710" dy="14.6">+ addOnLoadCode()</tspan><tspan x="4710" dy="14.6">+ getOnLoadCodeForAsynch()</tspan><tspan x="4710" dy="14.6">+ resetJavascript()</tspan><tspan x="4710" dy="14.6">+ fillJavaScriptFiles()</tspan><tspan x="4710" dy="14.6">+ addCss()</tspan><tspan x="4710" dy="14.6">+ addInlineCss()</tspan><tspan x="4710" dy="14.6">+ setBodyClass()</tspan><tspan x="4710" dy="14.6">and 33 more...</tspan></text></g>

<g id="ilIniFile"><rect class="b" x="5198" y="403" width="131" height="221"/><line class="sep" x1="5198" y1="428" x2="5329" y2="428"/><line class="sep" x1="5198" y1="453" x2="5329" y2="453"/><text class="t" x="5263" y="421">ilIniFile</text>
<text x="5208" y="468"><tspan x="5208">+ __construct()</tspan><tspan x="5208" dy="14.6">+ read()</tspan><tspan x="5208" dy="14.6">+ parse()</tspan><tspan x="5208" dy="14.6">+ write()</tspan><tspan x="5208" dy="14.6">+ show()</tspan><tspan x="5208" dy="14.6">+ getGroupCount()</tspan><tspan x="5208" dy="14.6">+ readGroups()</tspan><tspan x="5208" dy="14.6">+ groupExists()</tspan><tspan x="5208" dy="14.6">+ readGroup()</tspan><tspan x="5208" dy="14.6">+ addGroup()</tspan><tspan x="5208" dy="14.6">and 6 more...</tspan></text></g>

<g id="AdministrationSetting"><rect class="b" x="3079" y="417" width="142" height="193"/><line class="sep" x1="3079" y1="457" x2="3221" y2="457"/><line class="sep" x1="3079" y1="482" x2="3221" y2="482"/><text class="t" x="3150" y="432"><tspan x="3150">ILIAS\Administration</tspan><tspan x="3150" dy="15">\Setting</tspan></text>
<text x="3089" y="497"><tspan x="3089">+ getModule()</tspan><tspan x="3089" dy="14.6">+ read()</tspan><tspan x="3089" dy="14.6">+ get()</tspan><tspan x="3089" dy="14.6">+ deleteAll()</tspan><tspan x="3089" dy="14.6">+ delete()</tspan><tspan x="3089" dy="14.6">+ getAll()</tspan><tspan x="3089" dy="14.6">+ set()</tspan><tspan x="3089" dy="14.6">+ _lookupValue()</tspan></text></g>

<g id="ilDBInterface"><rect class="b" x="3354" y="388" width="235" height="252"/><line class="sep" x1="3354" y1="413" x2="3589" y2="413"/><line class="sep" x1="3354" y1="438" x2="3589" y2="438"/><text class="t" x="3471" y="406">ilDBInterface</text>
<text x="3364" y="453"><tspan x="3364">+ doesCollationSupportMB4Strings()</tspan><tspan x="3364" dy="14.6">+ sanitizeMB4StringIfNotSupported()</tspan><tspan x="3364" dy="14.6">+ initFromIniFile()</tspan><tspan x="3364" dy="14.6">+ connect()</tspan><tspan x="3364" dy="14.6">+ nextId()</tspan><tspan x="3364" dy="14.6">+ createTable()</tspan><tspan x="3364" dy="14.6">+ addPrimaryKey()</tspan><tspan x="3364" dy="14.6">+ createSequence()</tspan><tspan x="3364" dy="14.6">+ getSequenceName()</tspan><tspan x="3364" dy="14.6">+ tableExists()</tspan><tspan x="3364" dy="14.6">and 74 more...</tspan><tspan x="3364" dy="14.6">+ getReservedWords()</tspan><tspan x="3364" dy="14.6">+ isReservedWord()</tspan></text></g>

<g id="ilLanguage"><rect class="b" x="1357" y="2466" width="178" height="325"/><line class="sep" x1="1357" y1="2491" x2="1535" y2="2491"/><line class="sep" x1="1357" y1="2517" x2="1535" y2="2517"/><text class="t" x="1446" y="2484">ilLanguage</text>
<text x="1367" y="2532"><tspan x="1367">+ __construct()</tspan><tspan x="1367" dy="14.6">+ getLangKey()</tspan><tspan x="1367" dy="14.6">+ getDefaultLanguage()</tspan><tspan x="1367" dy="14.6">+ getTextDirection()</tspan><tspan x="1367" dy="14.6">+ getContentLanguage()</tspan><tspan x="1367" dy="14.6">+ txtlng()</tspan><tspan x="1367" dy="14.6">+ txt()</tspan><tspan x="1367" dy="14.6">+ exists()</tspan><tspan x="1367" dy="14.6">+ loadLanguageModule()</tspan><tspan x="1367" dy="14.6">+ getInstalledLanguages()</tspan><tspan x="1367" dy="14.6">and 7 more...</tspan><tspan x="1367" dy="14.6">+ _getInstalledLanguages()</tspan><tspan x="1367" dy="14.6">+ _lookupEntry()</tspan><tspan x="1367" dy="14.6">+ lookupId()</tspan><tspan x="1367" dy="14.6">+ getFallbackInstance()</tspan><tspan x="1367" dy="14.6">+ getGlobalInstance()</tspan><tspan x="1367" dy="14.6"># logUsage()</tspan><tspan x="1367" dy="14.6"># isUsageLogEnabled()</tspan></text></g>

<g id="ilTree"><rect class="b" x="2570" y="2474" width="194" height="310"/><line class="sep" x1="2570" y1="2499" x2="2764" y2="2499"/><line class="sep" x1="2570" y1="2525" x2="2764" y2="2525"/><text class="t" x="2667" y="2492">ilTree</text>
<text x="2580" y="2516"># DEFAULT_GAP</text>
<text x="2580" y="2540"><tspan x="2580">+ __construct()</tspan><tspan x="2580" dy="14.6">+ initTreeImplementation()</tspan><tspan x="2580" dy="14.6">+ getTreeImplementation()</tspan><tspan x="2580" dy="14.6">+ useCache()</tspan><tspan x="2580" dy="14.6">+ isCacheUsed()</tspan><tspan x="2580" dy="14.6">+ getDepthCache()</tspan><tspan x="2580" dy="14.6">+ getParentCache()</tspan><tspan x="2580" dy="14.6">+ initLangCode()</tspan><tspan x="2580" dy="14.6">+ getTreeTable()</tspan><tspan x="2580" dy="14.6">+ getObjectDataTable()</tspan><tspan x="2580" dy="14.6">and 69 more...</tspan><tspan x="2580" dy="14.6">+ lookupTreesForNode()</tspan><tspan x="2580" dy="14.6">+ _removeEntry()</tspan><tspan x="2580" dy="14.6"># getLangCode()</tspan><tspan x="2580" dy="14.6"># fetchTranslationFromObject</tspan><tspan x="2580" dy="14.6">DataCache()</tspan><tspan x="2580" dy="14.6">- __renumber()</tspan></text></g>

<g id="ilRbacAdmin"><rect class="b" x="3548" y="2503" width="189" height="251"/><line class="sep" x1="3548" y1="2528" x2="3737" y2="2528"/><line class="sep" x1="3548" y1="2554" x2="3737" y2="2554"/><text class="t" x="3642" y="2521">ilRbacAdmin</text>
<text x="3558" y="2569"><tspan x="3558">+ __construct()</tspan><tspan x="3558" dy="14.6">+ setBlockedStatus()</tspan><tspan x="3558" dy="14.6">+ removeUser()</tspan><tspan x="3558" dy="14.6">+ deleteRole()</tspan><tspan x="3558" dy="14.6">+ deleteTemplate()</tspan><tspan x="3558" dy="14.6">+ deleteLocalRole()</tspan><tspan x="3558" dy="14.6">+ assignUserLimited()</tspan><tspan x="3558" dy="14.6">+ assignUser()</tspan><tspan x="3558" dy="14.6">+ deassignUser()</tspan><tspan x="3558" dy="14.6">+ grantPermission()</tspan><tspan x="3558" dy="14.6">and 18 more...</tspan><tspan x="3558" dy="14.6"># applyMovedObjectDidactic</tspan><tspan x="3558" dy="14.6">Templates()</tspan></text></g>

<g id="ilObject"><rect class="b" x="3041" y="2855" width="226" height="619"/><line class="sep" x1="3041" y1="2881" x2="3267" y2="2881"/><line class="sep" x1="3041" y1="2906" x2="3267" y2="2906"/><text class="t" x="3154" y="2873">ilObject</text>
<text x="3051" y="2921"><tspan x="3051">+ __construct()</tspan><tspan x="3051" dy="14.6">+ withReferences()</tspan><tspan x="3051" dy="14.6">+ processAutoRating()</tspan><tspan x="3051" dy="14.6">+ read()</tspan><tspan x="3051" dy="14.6">+ getId()</tspan><tspan x="3051" dy="14.6">+ setId()</tspan><tspan x="3051" dy="14.6">+ setRefId()</tspan><tspan x="3051" dy="14.6">+ getRefId()</tspan><tspan x="3051" dy="14.6">+ getType()</tspan><tspan x="3051" dy="14.6">+ setType()</tspan><tspan x="3051" dy="14.6">and 39 more...</tspan><tspan x="3051" dy="14.6">+ _lookupObjIdByImportId()</tspan><tspan x="3051" dy="14.6">+ _lookupImportId()</tspan><tspan x="3051" dy="14.6">+ _lookupOwnerName()</tspan><tspan x="3051" dy="14.6">+ _getIdForImportId()</tspan><tspan x="3051" dy="14.6">+ _getAllReferences()</tspan><tspan x="3051" dy="14.6">+ _lookupTitle()</tspan><tspan x="3051" dy="14.6">+ lookupOfflineStatus()</tspan><tspan x="3051" dy="14.6">+ _lookupOwner()</tspan><tspan x="3051" dy="14.6">+ _getIdsForTitle()</tspan><tspan x="3051" dy="14.6">+ _lookupDescription()</tspan><tspan x="3051" dy="14.6">and 26 more...</tspan><tspan x="3051" dy="14.6"># doMDUpdateListener()</tspan><tspan x="3051" dy="14.6"># beforeMDUpdateListener()</tspan><tspan x="3051" dy="14.6"># doCreateMetaData()</tspan><tspan x="3051" dy="14.6"># beforeCreateMetaData()</tspan><tspan x="3051" dy="14.6"># doUpdateMetaData()</tspan><tspan x="3051" dy="14.6"># beforeUpdateMetaData()</tspan><tspan x="3051" dy="14.6"># doDeleteMetaData()</tspan><tspan x="3051" dy="14.6"># beforeDeleteMetaData()</tspan><tspan x="3051" dy="14.6"># handleAutoRating()</tspan><tspan x="3051" dy="14.6"># hasAutoRating()</tspan><tspan x="3051" dy="14.6">- appendCopyInfoToTranslations()</tspan><tspan x="3051" dy="14.6">- getCallbackForTitlesPerLanguage</tspan><tspan x="3051" dy="14.6">Transformation()</tspan><tspan x="3051" dy="14.6">- appendNumberOfCopiesToTitle()</tspan><tspan x="3051" dy="14.6">- isTitleUnique()</tspan><tspan x="3051" dy="14.6">- buildTitleWithoutCopySuffix()</tspan></text></g>

<g id="ilObjUser"><rect class="b" x="3098" y="3538" width="200" height="750"/><line class="sep" x1="3098" y1="3563" x2="3298" y2="3563"/><line class="sep" x1="3098" y1="3882" x2="3298" y2="3882"/><text class="t" x="3198" y="3556">ilObjUser</text>
<text x="3108" y="3578"><tspan x="3108">+ $login</tspan><tspan x="3108" dy="14.6">+ $gender</tspan><tspan x="3108" dy="14.6">+ $utitle</tspan><tspan x="3108" dy="14.6">+ $firstname</tspan><tspan x="3108" dy="14.6">+ $lastname</tspan><tspan x="3108" dy="14.6">+ $fullname</tspan><tspan x="3108" dy="14.6">+ $department</tspan><tspan x="3108" dy="14.6">+ $street</tspan><tspan x="3108" dy="14.6">+ $city</tspan><tspan x="3108" dy="14.6">+ $country</tspan><tspan x="3108" dy="14.6">and 12 more...</tspan><tspan x="3108" dy="14.6"># $time_limit_message</tspan><tspan x="3108" dy="14.6"># $last_login</tspan><tspan x="3108" dy="14.6"># $passwd</tspan><tspan x="3108" dy="14.6"># $password_encoding_type</tspan><tspan x="3108" dy="14.6"># $password_salt</tspan><tspan x="3108" dy="14.6"># $birthday</tspan><tspan x="3108" dy="14.6"># $second_email</tspan><tspan x="3108" dy="14.6"># $inactivation_date</tspan><tspan x="3108" dy="14.6"># $org_units</tspan><tspan x="3108" dy="14.6"># $last_profile_prompt</tspan></text>
<text x="3108" y="3897"><tspan x="3108">+ __construct()</tspan><tspan x="3108" dy="14.6">+ read()</tspan><tspan x="3108" dy="14.6">+ getPasswordEncodingType()</tspan><tspan x="3108" dy="14.6">+ setPasswordEncodingType()</tspan><tspan x="3108" dy="14.6">+ getPasswordSalt()</tspan><tspan x="3108" dy="14.6">+ setPasswordSalt()</tspan><tspan x="3108" dy="14.6">+ assignData()</tspan><tspan x="3108" dy="14.6">+ saveAsNew()</tspan><tspan x="3108" dy="14.6">+ update()</tspan><tspan x="3108" dy="14.6">+ writeAccepted()</tspan><tspan x="3108" dy="14.6">and 168 more...</tspan><tspan x="3108" dy="14.6">+ _lookupFullname()</tspan><tspan x="3108" dy="14.6">+ _lookupEmail()</tspan><tspan x="3108" dy="14.6">+ _lookupGender()</tspan><tspan x="3108" dy="14.6">+ _lookupClientIP()</tspan><tspan x="3108" dy="14.6">+ _lookupName()</tspan><tspan x="3108" dy="14.6">+ _lookupFields()</tspan><tspan x="3108" dy="14.6">+ _lookupLogin()</tspan><tspan x="3108" dy="14.6">+ _lookupExternalAccount()</tspan><tspan x="3108" dy="14.6">+ _lookupId()</tspan><tspan x="3108" dy="14.6">+ _lookupLastLogin()</tspan><tspan x="3108" dy="14.6">and 63 more...</tspan><tspan x="3108" dy="14.6"># buildTextFromArray()</tspan><tspan x="3108" dy="14.6"># readMultiTextFields()</tspan><tspan x="3108" dy="14.6"># deleteMultiTextFields()</tspan><tspan x="3108" dy="14.6">- _lookup()</tspan><tspan x="3108" dy="14.6">- getLoginFromAuth()</tspan></text></g>

<g id="ilRTE"><rect x="4675" y="4352" width="219" height="340" fill="#bfbfbf" stroke="#000" stroke-width="1.3"/><line class="sep" x1="4675" y1="4377" x2="4894" y2="4377"/><line class="sep" x1="4675" y1="4403" x2="4894" y2="4403"/><text class="t" x="4784" y="4370">ilRTE</text>
<text x="4685" y="4418"><tspan x="4685">+ __construct()</tspan><tspan x="4685" dy="14.6">+ addPlugin()</tspan><tspan x="4685" dy="14.6">+ addButton()</tspan><tspan x="4685" dy="14.6">+ removePlugin()</tspan><tspan x="4685" dy="14.6">+ removeAllPlugins()</tspan><tspan x="4685" dy="14.6">+ removeButton()</tspan><tspan x="4685" dy="14.6">+ addRTESupport()</tspan><tspan x="4685" dy="14.6">+ addUserTextEditor()</tspan><tspan x="4685" dy="14.6">+ addCustomRTESupport()</tspan><tspan x="4685" dy="14.6">+ setRTERootBlockElement()</tspan><tspan x="4685" dy="14.6">+ getRTERootBlockElement()</tspan><tspan x="4685" dy="14.6">+ disableButtons()</tspan><tspan x="4685" dy="14.6">+ getDisabledButtons()</tspan><tspan x="4685" dy="14.6">+ getInitialWidth()</tspan><tspan x="4685" dy="14.6">+ setInitialWidth()</tspan><tspan x="4685" dy="14.6">+ _getRTEClassname()</tspan><tspan x="4685" dy="14.6">+ _cleanupMediaObjectUsage()</tspan><tspan x="4685" dy="14.6">+ _replaceMediaObjectImageSrc()</tspan><tspan x="4685" dy="14.6">+ _getMediaObjects()</tspan></text></g>
</svg>
